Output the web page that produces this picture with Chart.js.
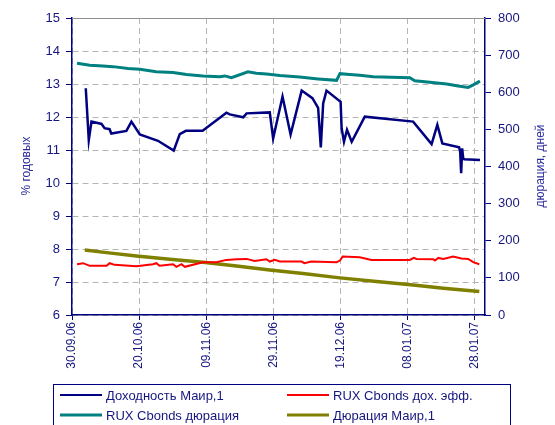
<!DOCTYPE html>
<html>
<head>
<meta charset="utf-8">
<script src="https://cdn.jsdelivr.net/npm/chart.js@4.4.1/dist/chart.umd.min.js"></script>
<style>
    html, body { margin: 0; padding: 0; background: #fff; }
    #wrap { width: 555px; height: 425px; position: relative; overflow: hidden; }
</style>
</head>
<body>
<div id="wrap"><canvas id="chart" width="555" height="425"></canvas></div>
<script>
// -- Data (x = days since 30.09.06) --
const xTickDays = [0, 20, 40, 60, 80, 100, 120];
const xTickLabels = ['30.09.06', '20.10.06', '09.11.06', '29.11.06', '19.12.06', '08.01.07', '28.01.07'];

// Доходность Маир,1 (left axis, %)
const yieldMairDays = [4.1, 5.0, 5.8, 8.8, 9.7, 11.2, 11.7, 16.2, 17.7, 20.2, 25.6, 30.3, 32.1, 33.9, 38.9, 46.0, 47.0, 51.0, 52.0, 58.9, 59.9, 62.7, 65.1, 68.4, 71.6, 73.3, 74.1, 74.8, 75.8, 80.0, 80.3, 81.0, 81.9, 83.3, 87.2, 101.6, 107.1, 108.8, 110.3, 115.3, 115.6, 115.9, 116.2, 116.5, 116.8, 121.5];
const yieldMairVals = [12.87, 11.30, 11.86, 11.79, 11.66, 11.63, 11.50, 11.58, 11.86, 11.47, 11.28, 10.98, 11.48, 11.58, 11.58, 12.13, 12.08, 11.99, 12.11, 12.14, 11.35, 12.62, 11.47, 12.80, 12.57, 12.28, 11.08, 12.41, 12.80, 12.46, 11.66, 11.25, 11.61, 11.25, 12.01, 11.86, 11.18, 11.76, 11.20, 11.08, 10.95, 10.30, 11.05, 10.75, 10.72, 10.70];

// RUX Cbonds дох. эфф. (left axis, %)
const ruxYieldDays = [1.5, 3.3, 5.3, 10.3, 11.2, 12.7, 19.2, 24.1, 25.1, 26.1, 30.1, 31.1, 32.6, 33.6, 39.0, 43.0, 46.0, 49.0, 52.0, 54.4, 57.9, 58.9, 60.4, 61.9, 68.4, 69.2, 71.3, 78.8, 79.8, 80.6, 85.7, 89.2, 100.6, 101.8, 102.6, 107.6, 108.1, 109.1, 110.6, 113.5, 116.0, 118.0, 119.5, 121.3];
const ruxYieldVals = [7.54, 7.57, 7.49, 7.49, 7.57, 7.52, 7.48, 7.54, 7.57, 7.49, 7.54, 7.46, 7.54, 7.46, 7.60, 7.60, 7.67, 7.69, 7.70, 7.64, 7.69, 7.62, 7.67, 7.62, 7.62, 7.57, 7.62, 7.60, 7.65, 7.77, 7.75, 7.67, 7.67, 7.73, 7.70, 7.69, 7.65, 7.73, 7.70, 7.77, 7.71, 7.70, 7.60, 7.54];

// RUX Cbonds дюрация (right axis, days)
const ruxDurDays = [1.5, 5.3, 9.2, 12.2, 16.7, 20.2, 25.1, 30.1, 34.1, 39.0, 44.0, 45.5, 47.5, 52.4, 54.9, 57.9, 61.9, 67.8, 73.3, 78.8, 79.8, 82.7, 85.7, 89.7, 100.6, 102.1, 106.6, 111.6, 115.0, 118.0, 119.5, 121.5];
const ruxDurVals = [678, 673, 671, 669, 664, 662, 655, 653, 648, 644, 642, 644, 639, 655, 651, 649, 645, 641, 636, 632, 650, 648, 646, 642, 639, 631, 627, 622, 617, 613, 620, 630];

// Дюрация Маир,1 (right axis, days)
const durMairDays = [3.8, 10.3, 19.2, 29.1, 39.0, 49.0, 58.9, 68.8, 79.8, 90.7, 101.6, 110.6, 121.3];
const durMairVals = [175, 168, 159, 150, 142, 132, 121, 112, 100, 90, 81, 72, 63];

const navy = '#000080';
const textNavy = '#16167f';
const gridGray = '#b4b4b4';
const fontFamily = '"Liberation Sans", Arial, sans-serif';

function toPoints(days, vals) {
    return days.map((d, i) => ({ x: d, y: vals[i] }));
}

const seriesList = [
    { label: 'Доходность Маир,1', color: navy, width: 2.5, axis: 'y', data: toPoints(yieldMairDays, yieldMairVals) },
    { label: 'RUX Cbonds дох. эфф.', color: '#ff0000', width: 2, axis: 'y', data: toPoints(ruxYieldDays, ruxYieldVals) },
    { label: 'RUX Cbonds дюрация', color: '#008080', width: 3, axis: 'y1', data: toPoints(ruxDurDays, ruxDurVals) },
    { label: 'Дюрация Маир,1', color: '#808000', width: 3.5, axis: 'y1', data: toPoints(durMairDays, durMairVals) }
];

// -- Extra drawing: top frame line, axis titles, legend box --
const extrasPlugin = {
    id: 'extras',
    afterDraw(chart) {
        const ctx = chart.ctx;
        const area = chart.chartArea;
        ctx.save();
        // top frame line
        ctx.strokeStyle = '#909090';
        ctx.lineWidth = 1;
        ctx.beginPath();
        ctx.moveTo(area.left, area.top + 0.5);
        ctx.lineTo(area.right, area.top + 0.5);
        ctx.stroke();

        // axis titles
        ctx.fillStyle = '#2b2b9c';
        ctx.font = '12px ' + fontFamily;
        ctx.textAlign = 'center';
        ctx.textBaseline = 'middle';
        ctx.save();
        ctx.translate(27, 166);
        ctx.rotate(-Math.PI / 2);
        ctx.fillText('% годовых', 0, 0);
        ctx.restore();
        ctx.save();
        ctx.translate(541, 166);
        ctx.rotate(-Math.PI / 2);
        ctx.fillText('дюрация, дней', 0, 0);
        ctx.restore();

        // legend
        ctx.strokeStyle = navy;
        ctx.lineWidth = 1;
        ctx.strokeRect(53.5, 384.5, 457, 60);
        const cols = [60, 287];
        const rows = [395, 415];
        ctx.font = '13px ' + fontFamily;
        ctx.textAlign = 'left';
        seriesList.forEach((s, i) => {
            const x = cols[i % 2];
            const y = rows[Math.floor(i / 2)];
            ctx.strokeStyle = s.color;
            ctx.lineWidth = s.width > 2.5 ? 3 : 2;
            ctx.beginPath();
            ctx.moveTo(x, y);
            ctx.lineTo(x + 42, y);
            ctx.stroke();
            ctx.fillStyle = textNavy;
            ctx.fillText(s.label, x + 46, y + 1);
        });
        ctx.restore();
    }
};

new Chart(document.getElementById('chart'), {
    type: 'line',
    data: {
        datasets: seriesList.map(s => ({
            label: s.label,
            data: s.data,
            yAxisID: s.axis,
            borderColor: s.color,
            borderWidth: s.width,
            pointRadius: 0,
            tension: 0,
            fill: false
        }))
    },
    options: {
        responsive: false,
        animation: false,
        layout: { padding: { top: 18, left: 0, right: 0, bottom: 0 } },
        plugins: {
            legend: { display: false },
            tooltip: { enabled: false }
        },
        scales: {
            x: {
                type: 'linear',
                min: 0,
                max: 123,
                afterFit: (scale) => { scale.height = 110; },
                afterBuildTicks: (scale) => { scale.ticks = xTickDays.map(v => ({ value: v })); },
                ticks: {
                    autoSkip: false,
                    minRotation: 90,
                    maxRotation: 90,
                    padding: 2,
                    color: textNavy,
                    font: { family: fontFamily, size: 12 },
                    callback: (v) => xTickLabels[xTickDays.indexOf(v)]
                },
                grid: {
                    color: gridGray,
                    tickColor: navy,
                    tickLength: 5,
                    tickBorderDash: []
                },
                border: { color: navy, width: 1.5, dash: [6, 4] }
            },
            y: {
                position: 'left',
                min: 6,
                max: 15,
                afterFit: (scale) => { scale.width = 72; },
                ticks: {
                    stepSize: 1,
                    padding: 6,
                    color: textNavy,
                    font: { family: fontFamily, size: 13 }
                },
                grid: {
                    color: gridGray,
                    tickColor: navy,
                    tickLength: 6,
                    tickBorderDash: []
                },
                border: { color: navy, width: 1.5, dash: [6, 4] }
            },
            y1: {
                position: 'right',
                min: 0,
                max: 800,
                afterFit: (scale) => { scale.width = 70; },
                ticks: {
                    stepSize: 100,
                    padding: 7,
                    color: textNavy,
                    font: { family: fontFamily, size: 13 }
                },
                grid: {
                    drawOnChartArea: false,
                    tickColor: navy,
                    tickLength: 6
                },
                border: { color: navy, width: 1.5 }
            }
        }
    },
    plugins: [extrasPlugin]
});
</script>
</body>
</html>
